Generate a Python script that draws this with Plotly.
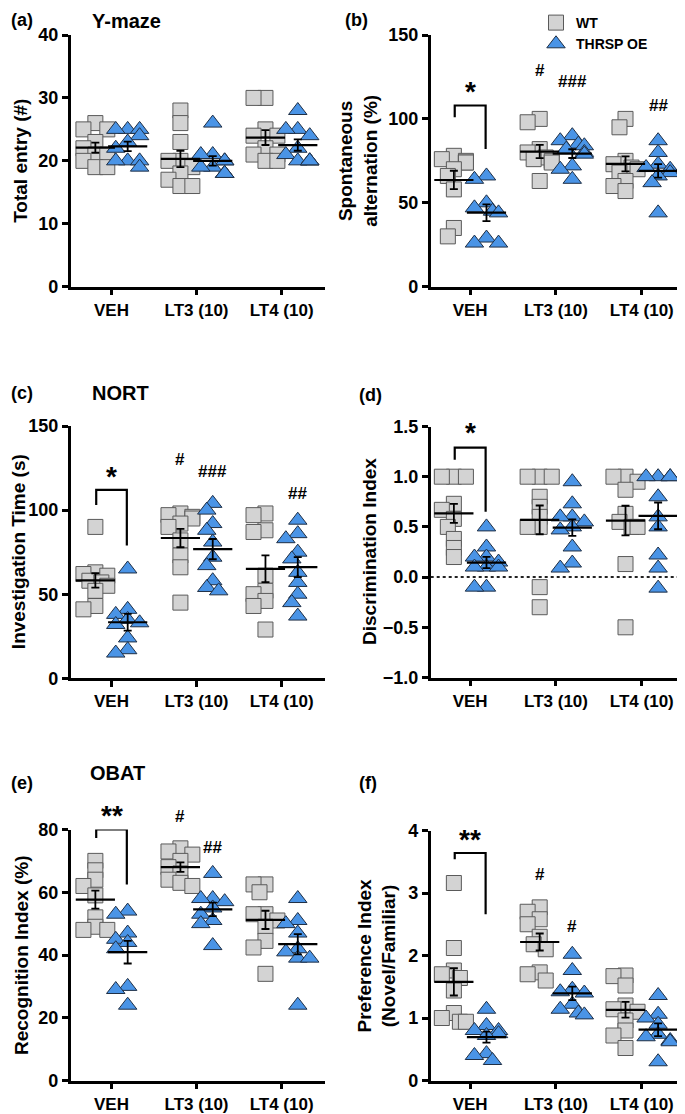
import numpy as np
import plotly.graph_objects as go

W, H = 685, 1114
PAD = 8  # the page body keeps an 8px margin around the plot div
GROUPS = ['VEH', 'LT3 (10)', 'LT4 (10)']

# ---- data, one list per group: VEH, LT3, LT4
ymaze_wt = [[26, 25, 25, 23, 22, 21, 21, 20, 19, 19],
            [28, 26, 23, 20, 20, 19, 18, 17, 16, 16],
            [30, 30, 25, 24, 24, 22, 21, 21, 20, 20]]
ymaze_oe = [[25, 25, 25, 24, 23, 22, 20, 20, 20, 19],
            [26, 21, 21, 20, 20, 19, 19, 18, 18, 18],
            [28, 25, 25, 24, 22, 21, 20, 20, 20, 20]]

alt_wt = [[78, 76, 75, 74, 74, 70, 66, 58, 35, 30],
          [100, 98, 82, 80, 77, 76, 75, 74, 63],
          [100, 95, 75, 73, 71, 70, 68, 63, 60, 57]]
alt_oe = [[66, 64, 50, 47, 45, 44, 29, 26, 26],
          [90, 87, 85, 84, 82, 80, 79, 72, 70, 64],
          [87, 80, 73, 71, 70, 68, 66, 62, 44]]

nort_wt = [[90, 63, 62, 61, 58, 57, 55, 52, 43, 41],
           [98, 97, 96, 95, 92, 90, 82, 73, 66, 45],
           [98, 97, 88, 87, 61, 52, 50, 46, 43, 29]]
nort_oe = [[65, 41, 38, 35, 33, 32, 24, 17, 15],
           [104, 100, 92, 88, 81, 72, 67, 58, 54, 52],
           [94, 86, 83, 75, 71, 63, 57, 50, 45, 37]]

di_wt = [[1.0, 1.0, 1.0, 0.73, 0.67, 0.58, 0.5, 0.38, 0.29, 0.2],
         [1.0, 1.0, 1.0, 0.8, 0.7, 0.6, 0.5, 0.5, -0.1, -0.3],
         [1.0, 1.0, 0.95, 0.87, 0.63, 0.55, 0.5, 0.5, 0.13, -0.5]]
di_oe = [[0.5, 0.3, 0.2, 0.2, 0.15, 0.1, 0.1, 0.1, -0.1, -0.1],
         [0.95, 0.73, 0.6, 0.6, 0.55, 0.5, 0.47, 0.3, 0.14, 0.09],
         [1.0, 1.0, 1.0, 1.0, 0.8, 0.6, 0.5, 0.22, 0.09, -0.11]]

obat_wt = [[70, 67, 64, 62, 59, 52, 49, 48, 48],
           [74, 73, 72, 70, 68, 66, 64, 63, 62],
           [62.5, 62.5, 60, 53, 53, 51, 49, 44.5, 42.4, 34]]
obat_oe = [[54, 53, 47, 45, 44, 42, 30, 29, 24],
           [66, 58, 58, 57, 55, 53, 51, 50, 43],
           [58, 51, 50, 47, 42, 41, 39, 39, 24]]

pref_wt = [[3.16, 2.12, 1.76, 1.7, 1.64, 1.44, 1.08, 1.0, 0.94, 0.94],
           [2.77, 2.7, 2.58, 2.5, 2.3, 2.18, 2.1, 1.73, 1.7, 1.6],
           [1.68, 1.67, 1.52, 1.2, 1.14, 1.1, 0.96, 0.8, 0.72, 0.52]]
pref_oe = [[1.14, 0.88, 0.8, 0.8, 0.75, 0.72, 0.43, 0.4, 0.32],
           [2.02, 1.76, 1.46, 1.42, 1.4, 1.22, 1.14, 1.08, 1.05],
           [1.36, 1.06, 1.0, 0.9, 0.74, 0.7, 0.64, 0.62, 0.3]]

FONT = 'Arial, Liberation Sans, sans-serif'
SQ_FILL, SQ_LINE = '#d3d3d3', '#5a5a5a'
TRI_FILL, TRI_LINE = '#4a94e6', '#1f2f45'
OFF = 0.19
FW, FH = W - PAD, H - PAD


def px_x(p):
    return (p - PAD) / FW


def px_y(p):
    return 1 - (p - PAD) / FH


def swarm(vals, ppu_y, ppu_x=85.5, step=6, mind=9):
    # spread points sideways where they would overlap (GraphPad-like)
    placed, offs = [], []
    for v in vals:
        y = v * ppu_y
        for k in [0, -1, 1, -2, 2]:
            x = k * step
            if all((x - a) ** 2 + (y - b) ** 2 >= mind ** 2 for a, b in placed):
                break
        placed.append((x, y))
        offs.append(x / ppu_x)
    return offs


panels = [
    dict(wt=ymaze_wt, oe=ymaze_oe, yr=[0, 40], ticks=[0, 10, 20, 30, 40], fmt='d',
         xd=[70.7, 325], yd=[35, 286.7], xr=[-0.48, 2.51],
         ytitle='Total entry (#)', ttx=21, label='(a)', lx=9, ly=20,
         head='Y-maze', hx=90, hy=21),
    dict(wt=alt_wt, oe=alt_oe, yr=[0, 150], ticks=[0, 50, 100, 150], fmt='d',
         xd=[430.7, 683], yd=[35, 286.7], xr=[-0.46, 2.48],
         ytitle='Spontaneous<br>alternation (%)', ttx=358, label='(b)', lx=343, ly=20,
         bracket=(101, 108, 82, 118),
         hashes=[(1 - OFF, 129, '#'), (1 + OFF, 122, '###'), (2 + OFF, 108, '##')]),
    dict(wt=nort_wt, oe=nort_oe, yr=[0, 150], ticks=[0, 50, 100, 150], fmt='d',
         xd=[70.7, 325], yd=[426, 678.3], xr=[-0.48, 2.51],
         ytitle='Investigation Time (s)', ttx=18, label='(c)', lx=9, ly=393,
         head='NORT', hx=90, hy=393,
         bracket=(103, 112, 79, 122),
         hashes=[(1 - OFF, 130, '#'), (1 + OFF, 123, '###'), (2 + OFF, 110, '##')]),
    dict(wt=di_wt, oe=di_oe, yr=[-1, 1.5], ticks=[-1, -0.5, 0, 0.5, 1, 1.5], fmt='.1f',
         xd=[430.7, 683], yd=[426.5, 677.5], xr=[-0.46, 2.48],
         ytitle='Discrimination Index', ttx=370, label='(d)', lx=357, ly=395,
         bracket=(1.17, 1.29, 0.65, 1.47), zero=True),
    dict(wt=obat_wt, oe=obat_oe, yr=[0, 80], ticks=[0, 20, 40, 60, 80], fmt='d',
         xd=[70.7, 325], yd=[829.5, 1080.5], xr=[-0.48, 2.51],
         ytitle='Recognition Index (%)', ttx=21, label='(e)', lx=9, ly=783,
         head='OBAT', hx=88, hy=773,
         bracket=(77.3, 80, 62.5, 85.3), stars='**',
         hashes=[(1 - OFF, 84.2, '#'), (1 + OFF, 74.2, '##')]),
    dict(wt=pref_wt, oe=pref_oe, yr=[0, 4], ticks=[0, 1, 2, 3, 4], fmt='d',
         xd=[430.7, 683], yd=[830.5, 1080.5], xr=[-0.46, 2.48],
         ytitle='Preference Index<br>(Novel/Familiar)', ttx=376, label='(f)', lx=357, ly=783,
         bracket=(3.54, 3.64, 2.66, 3.91), stars='**',
         hashes=[(1 - OFF, 3.3, '#'), (1 + OFF, 2.47, '#')]),
]

fig = go.Figure()
annotations, shapes = [], []

for i, p in enumerate(panels):
    n = '' if i == 0 else str(i + 1)
    xa, ya = 'x' + n, 'y' + n
    ppu_y = (p['yd'][1] - p['yd'][0]) / (p['yr'][1] - p['yr'][0])

    def to_paper(v, p=p):
        # value on this panel's y axis -> paper fraction (text may sit above the axis top)
        frac = (v - p['yr'][0]) / (p['yr'][1] - p['yr'][0])
        return px_y(p['yd'][1] - frac * (p['yd'][1] - p['yd'][0]))

    def xpaper(v, p=p):
        frac = (v - p['xr'][0]) / (p['xr'][1] - p['xr'][0])
        return px_x(p['xd'][0] + frac * (p['xd'][1] - p['xd'][0]))

    for key, off, sym, fill, lc, name in [('wt', -OFF, 'square', SQ_FILL, SQ_LINE, 'WT'),
                                          ('oe', OFF, 'triangle-up', TRI_FILL, TRI_LINE, 'THRSP OE')]:
        xs, ys = [], []
        for g, vals in enumerate(p[key]):
            jit = swarm(vals, ppu_y)
            xs += [g + off + j for j in jit]
            ys += vals
        fig.add_trace(go.Scatter(
            x=xs, y=ys, mode='markers', name=name, showlegend=(i == 0),
            marker=dict(symbol=sym, size=15 if sym == 'square' else 16, color=fill,
                        line=dict(color=lc, width=1)),
            xaxis=xa, yaxis=ya, cliponaxis=False))

    # mean +/- SEM
    for key, off in [('wt', -OFF), ('oe', OFF)]:
        means = [np.mean(v) for v in p[key]]
        sems = [np.std(v, ddof=1) / np.sqrt(len(v)) for v in p[key]]
        fig.add_trace(go.Scatter(
            x=[g + off for g in range(3)], y=means, mode='markers', showlegend=False,
            marker=dict(symbol='line-ew', size=28, line=dict(color='black', width=2.2)),
            error_y=dict(type='data', array=sems, color='black', thickness=1.8, width=4),
            xaxis=xa, yaxis=ya, cliponaxis=False))

    ax_common = dict(showline=True, linecolor='black', linewidth=2.5, ticks='outside',
                     ticklen=6, tickwidth=2.5, tickcolor='black', showgrid=False,
                     zeroline=False)
    fig.update_layout(**{
        'xaxis' + n: dict(domain=[px_x(p['xd'][0]), px_x(p['xd'][1])], range=p['xr'],
                          anchor=ya, tickvals=[0, 1, 2], ticktext=GROUPS,
                          tickfont=dict(family=FONT, size=17, color='black', weight='bold'),
                          **ax_common),
        'yaxis' + n: dict(domain=[px_y(p['yd'][1]), px_y(p['yd'][0])], range=p['yr'],
                          anchor=xa, tickvals=p['ticks'],
                          tickformat=p['fmt'] if p['fmt'] != 'd' else None,
                          tickfont=dict(family=FONT, size=18, color='black', weight='bold'),
                          **ax_common),
    })

    # y-axis title
    annotations.append(dict(text=p['ytitle'], textangle=-90, xref='paper', yref='paper',
                            x=px_x(p['ttx']), y=px_y((p['yd'][0] + p['yd'][1]) / 2),
                            showarrow=False, font=dict(family=FONT, size=19, color='black',
                                                       weight='bold'),
                            xanchor='center', yanchor='middle'))
    # panel label and heading
    annotations.append(dict(text=p['label'], xref='paper', yref='paper',
                            x=px_x(p['lx']), y=px_y(p['ly']), showarrow=False,
                            font=dict(family=FONT, size=18, color='black', weight='bold'),
                            xanchor='left', yanchor='middle'))
    if 'head' in p:
        annotations.append(dict(text=p['head'], xref='paper', yref='paper',
                                x=px_x(p['hx']), y=px_y(p['hy']), showarrow=False,
                                font=dict(family=FONT, size=20, color='black', weight='bold'),
                                xanchor='left', yanchor='middle'))

    if 'bracket' in p:
        lb, top, rb, sy = p['bracket']
        shapes.append(dict(type='path', xref=xa, yref=ya,
                           path=f'M {-0.18},{lb} L {-0.18},{top} L {0.18},{top} L {0.18},{rb}',
                           line=dict(color='black', width=2.2)))
        annotations.append(dict(text=p.get('stars', '*'), xref='paper', yref='paper',
                                x=xpaper(0), y=to_paper(sy),
                                showarrow=False, yshift=-3,
                                font=dict(family=FONT, size=28, color='black', weight='bold'),
                                xanchor='center', yanchor='middle'))
    for hx, hy, ht in p.get('hashes', []):
        annotations.append(dict(text=ht, xref='paper', yref='paper',
                                x=xpaper(hx), y=to_paper(hy), showarrow=False,
                                font=dict(family=FONT, size=17, color='black', weight='bold'),
                                xanchor='center', yanchor='middle'))
    if p.get('zero'):
        shapes.append(dict(type='line', xref=xa, yref=ya, x0=p['xr'][0], x1=p['xr'][1],
                           y0=0, y1=0, line=dict(color='#222222', width=2, dash='dot')))

fig.update_layout(
    width=FW, height=FH,
    margin=dict(l=0, r=0, t=0, b=0, autoexpand=False),
    paper_bgcolor='white', plot_bgcolor='white',
    annotations=annotations, shapes=shapes,
    legend=dict(x=px_x(536), y=px_y(7), xanchor='left', yanchor='top',
                font=dict(family=FONT, size=14, color='black', weight='bold'),
                bgcolor='rgba(0,0,0,0)', tracegroupgap=0, itemwidth=30),
)

fig.write_html("out.html")
